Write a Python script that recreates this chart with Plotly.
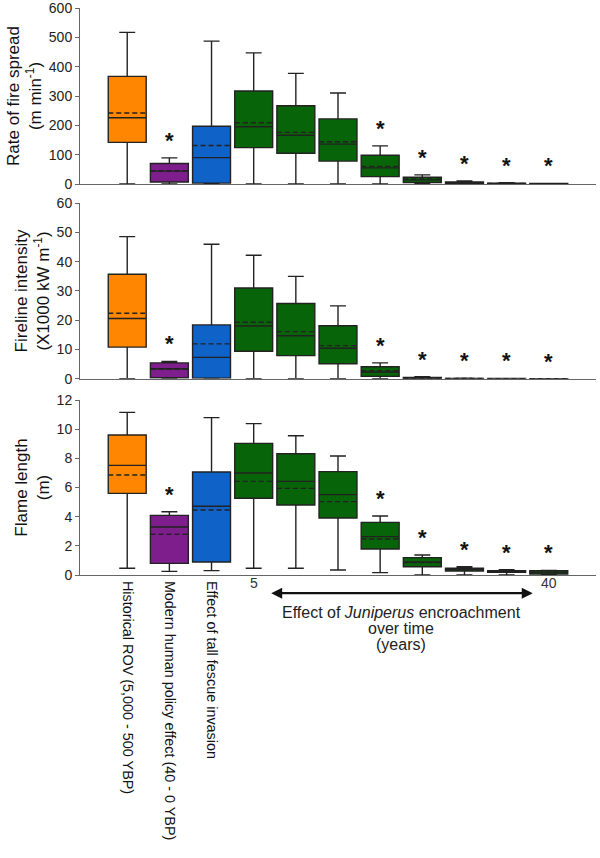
import plotly.graph_objects as go

# ---------------- data ----------------
categories = ["Historical ROV (5,000 - 500 YBP)", "Modern human policy effect (40 - 0 YBP)",
              "Effect of tall fescue invasion", "J1", "J2", "J3", "J4", "J5", "J6", "J7", "J8"]
tick_labels = ["Historical ROV (5,000 - 500 YBP)", "Modern human policy effect (40 - 0 YBP)",
               "Effect of tall fescue invasion"]
box_colors = ["#FF8600", "#7E1E8D", "#0E62C8"] + ["#086408"] * 8
significant = [False, True, False, False, False, False, True, True, True, True, True]

# Rate of fire spread (m min-1)
ros_lower = [0, 0, 0, 0, 0, 0, 0, 0, 0, 0, 0]
ros_q1 = [142, 7, 3, 124, 105, 78, 25, 5, 1, 0.3, 0.1]
ros_median = [226, 44, 90, 195, 166, 136, 55, 14, 4, 1.5, 0.5]
ros_q3 = [367, 70, 197, 317, 267, 222, 98, 23, 7, 3, 1.5]
ros_upper = [517, 89, 487, 447, 377, 310, 130, 31, 10, 4.5, 2]
ros_mean = [242, 45, 131, 209, 176, 144, 60, 17, 4.5, 2, 0.8]

# Fireline intensity (X1000 kW m-1)
fli_lower = [0, 0, 0, 0, 0, 0, 0, 0, 0, 0, 0]
fli_q1 = [10.8, 0.3, 0.2, 9.4, 7.9, 5.1, 0.8, 0.05, 0.01, 0.0, 0.0]
fli_median = [20.6, 3.4, 7.3, 18.0, 14.7, 10.4, 2.3, 0.2, 0.05, 0.02, 0.01]
fli_q3 = [35.7, 5.4, 18.4, 31.0, 25.7, 18.1, 4.1, 0.4, 0.1, 0.05, 0.02]
fli_upper = [48.6, 5.9, 46.0, 42.2, 35.0, 24.9, 5.4, 0.7, 0.15, 0.08, 0.04]
fli_mean = [22.4, 3.2, 11.9, 19.3, 16.1, 11.3, 2.7, 0.25, 0.06, 0.03, 0.01]

# Flame length (m)
fl_lower = [0.46, 0.25, 0.3, 0.46, 0.46, 0.34, 0.16, 0.0, 0.0, 0.0, 0.0]
fl_q1 = [5.6, 0.8, 0.89, 5.26, 4.8, 3.91, 1.78, 0.57, 0.27, 0.18, 0.07]
fl_median = [7.52, 3.29, 4.71, 6.99, 6.42, 5.51, 2.63, 0.89, 0.39, 0.25, 0.2]
fl_q3 = [9.6, 4.09, 7.06, 9.03, 8.32, 7.09, 3.61, 1.19, 0.46, 0.3, 0.3]
fl_upper = [11.15, 4.34, 10.79, 10.38, 9.55, 8.16, 4.05, 1.37, 0.57, 0.37, 0.31]
fl_mean = [6.86, 2.79, 4.46, 6.42, 5.94, 5.03, 2.47, 0.85, 0.38, 0.24, 0.17]

panels = [
    dict(lower=ros_lower, q1=ros_q1, med=ros_median, q3=ros_q3, upper=ros_upper, mean=ros_mean,
         title="Rate of fire spread<br>(m min<sup>-1</sup>)", yrange=[0, 600], dtick=100),
    dict(lower=fli_lower, q1=fli_q1, med=fli_median, q3=fli_q3, upper=fli_upper, mean=fli_mean,
         title="Fireline intensity<br>(X1000 kW m<sup>-1</sup>)", yrange=[0, 60], dtick=10),
    dict(lower=fl_lower, q1=fl_q1, med=fl_median, q3=fl_q3, upper=fl_upper, mean=fl_mean,
         title="Flame length<br>(m)", yrange=[0, 12], dtick=2),
]

FONT = "Arial, Liberation Sans, sans-serif"
domains = [[0.6896, 1.0], [0.3462, 0.6556], [0.0, 0.3086]]
positions = list(range(len(categories)))
BOX_W = 0.9

fig = go.Figure()
annotations = []
for p_i, p in enumerate(panels):
    xa = "x" if p_i == 0 else f"x{p_i+1}"
    ya = "y" if p_i == 0 else f"y{p_i+1}"
    mx, my = [], []
    for i, pos in enumerate(positions):
        fig.add_trace(go.Box(
            x=[pos], q1=[p["q1"][i]], median=[p["med"][i]], q3=[p["q3"][i]],
            lowerfence=[p["lower"][i]], upperfence=[p["upper"][i]],
            boxpoints=False, width=BOX_W, whiskerwidth=0.42,
            fillcolor=box_colors[i], line=dict(color="#222222", width=1.4),
            xaxis=xa, yaxis=ya, showlegend=False, hoverinfo="skip"))
        mx += [pos - BOX_W / 2, pos + BOX_W / 2, None]
        my += [p["mean"][i], p["mean"][i], None]
        if significant[i]:
            annotations.append(dict(
                x=pos, y=p["upper"][i], xref=xa, yref=ya, text="<b>*</b>", showarrow=False,
                yanchor="bottom", yshift=3, font=dict(family=FONT, size=22, color="#111")))
    fig.add_trace(go.Scatter(x=mx, y=my, mode="lines", xaxis=xa, yaxis=ya,
                             line=dict(color="#222222", width=1.4, dash="5px,3px"),
                             showlegend=False, hoverinfo="skip"))

axis_common = dict(showline=True, linecolor="#666", linewidth=1, showgrid=False,
                   zeroline=False, automargin=False)
for p_i, p in enumerate(panels):
    suffix = "" if p_i == 0 else str(p_i + 1)
    xaxis = dict(axis_common, domain=[0, 1], range=[-1.12, 11.12], anchor="y" + suffix,
                 ticks="", showticklabels=False)
    if p_i == 2:
        xaxis.update(showticklabels=True, tickmode="array", tickvals=positions[:3],
                     ticktext=tick_labels, tickangle=90, ticklabeloverflow="allow",
                     ticklabelstandoff=2,
                     tickfont=dict(family=FONT, size=14.4, color="#111"))
    yaxis = dict(axis_common, domain=domains[p_i], range=p["yrange"], dtick=p["dtick"],
                 anchor="x" + suffix, ticks="outside", ticklen=4, tickcolor="#666",
                 ticklabeloverflow="allow",
                 tickfont=dict(family=FONT, size=14, color="#222"),
                 title=dict(text=p["title"], font=dict(family=FONT, size=17, color="#111"),
                            standoff=2))
    fig.update_layout(**{"xaxis" + suffix: xaxis, "yaxis" + suffix: yaxis})

# Juniperus encroachment time arrow (x3 data coordinates: boxes 3..10)
ARROW_Y = -0.032
annotations.append(dict(x=9.62, y=ARROW_Y, xref="x3", yref="paper", ax=3.38, ay=0,
                        axref="x3", ayref="pixel", showarrow=True, arrowhead=2, startarrowhead=2,
                        arrowside="end+start", arrowsize=1, arrowwidth=2.2, arrowcolor="#111",
                        text=""))
annotations.append(dict(x=3, y=ARROW_Y, xref="x3", yref="paper", text="5", showarrow=False,
                        font=dict(family=FONT, size=14, color="#333")))
annotations.append(dict(x=10, y=ARROW_Y, xref="x3", yref="paper", text="40", showarrow=False,
                        font=dict(family=FONT, size=14, color="#333")))
caption_lines = ["Effect of <i>Juniperus</i> encroachment", "over time", "(years)"]
caption_y = [-0.067, -0.0952, -0.1217]
for txt, yy in zip(caption_lines, caption_y):
    annotations.append(dict(x=6.5, y=yy, xref="x3", yref="paper", yanchor="middle",
                            text=txt, showarrow=False,
                            font=dict(family=FONT, size=16, color="#222")))

fig.update_layout(width=600, height=858, margin=dict(l=80, r=4, t=8, b=283),
                  plot_bgcolor="white", paper_bgcolor="white", annotations=annotations,
                  font=dict(family=FONT))

fig.write_html("out.html", config={"displayModeBar": False},
               post_script="document.body.style.margin='0';document.body.style.overflow='hidden';")
